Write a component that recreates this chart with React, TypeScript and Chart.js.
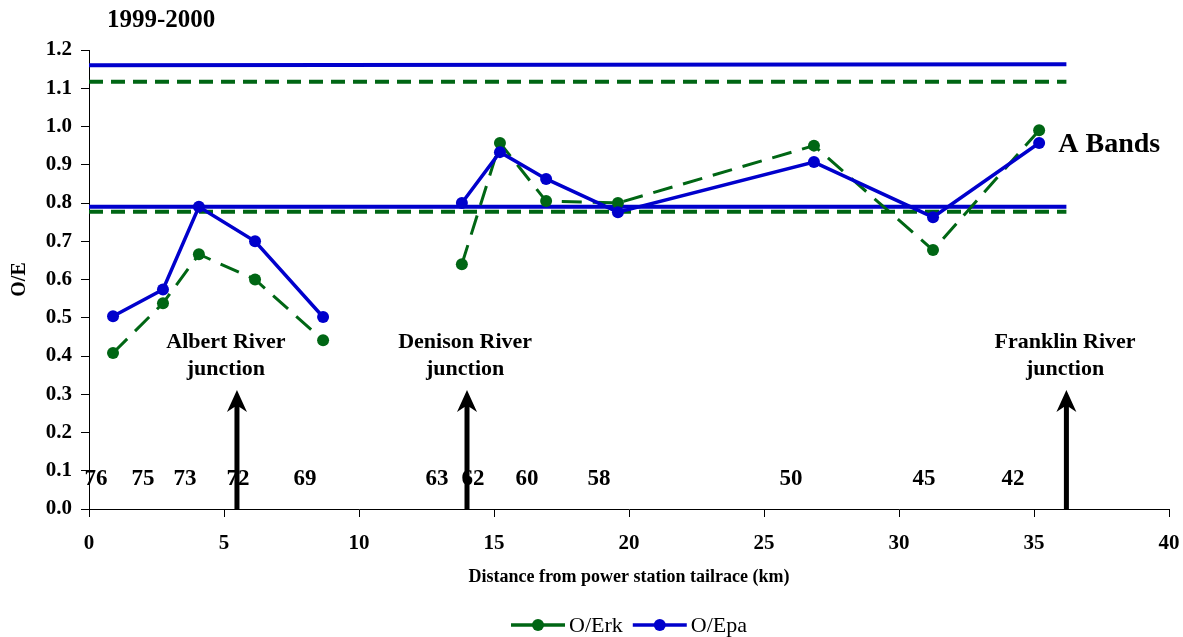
import React, { useEffect, useRef } from "react";
import { Chart, registerables } from "chart.js";

Chart.register(...registerables);

// ---------- data ----------
const distanceKm = [0.89, 2.74, 4.07, 6.15, 8.67, 13.81, 15.22, 16.93, 19.59, 26.85, 31.26, 35.19];
const oeRk = [0.408, 0.538, 0.666, 0.6, 0.441, 0.64, 0.957, 0.805, 0.8, 0.95, 0.677, 0.99];
const oePa = [0.504, 0.574, 0.79, 0.7, 0.502, 0.8, 0.933, 0.863, 0.776, 0.907, 0.763, 0.957];
const gapAfterIndex = 4; // series are broken between these reaches

const bandKm = [0, 36.2];
const paUpperBand = [1.16, 1.163];
const paLowerBand = [0.79, 0.79];
const rkUpperBand = [1.117, 1.117];
const rkLowerBand = [0.777, 0.777];

const siteNumbers = ["76", "75", "73", "72", "69", "63", "62", "60", "58", "50", "45", "42"];
const siteLabelKm = [0.26, 2.0, 3.56, 5.52, 8.0, 12.89, 14.22, 16.22, 18.89, 26.0, 30.93, 34.22];
const siteLabelOE = 0.078;

const junctionNames = ["Albert River", "Denison River", "Franklin River"];
const junctionKm = [5.48, 14.0, 36.2];
const junctionLabelKm = [5.07, 13.93, 36.15];
const junctionLineOE = [0.437, 0.366];
const arrowTipOE = 0.311;

const bandTitle = "A Bands";
const bandTitlePos = [35.9, 0.952];
const chartTitle = "1999-2000";

const GREEN = "#006614";
const BLUE = "#0000CC";
const SERIF = "'Liberation Serif', 'Times New Roman', serif";

function withGap(values: number[]) {
  const pts: { x: number; y: number | null }[] = [];
  values.forEach((v, i) => {
    pts.push({ x: distanceKm[i], y: v });
    if (i === gapAfterIndex) pts.push({ x: (distanceKm[i] + distanceKm[i + 1]) / 2, y: null });
  });
  return pts;
}

function band(values: number[]) {
  return values.map((v, i) => ({ x: bandKm[i], y: v }));
}

const overlayPlugin = {
  id: "overlay",
  afterDatasetsDraw(chart: any) {
    const ctx = chart.ctx as CanvasRenderingContext2D;
    const xs = chart.scales.x;
    const ys = chart.scales.y;
    const area = chart.chartArea;
    ctx.save();

    // site numbers
    ctx.fillStyle = "#000";
    ctx.font = `bold 23px ${SERIF}`;
    ctx.textAlign = "center";
    ctx.textBaseline = "middle";
    siteNumbers.forEach((s, i) => {
      ctx.fillText(s, xs.getPixelForValue(siteLabelKm[i]), ys.getPixelForValue(siteLabelOE));
    });

    // junction labels
    ctx.font = `bold 22px ${SERIF}`;
    junctionNames.forEach((name, i) => {
      const x = xs.getPixelForValue(junctionLabelKm[i]);
      ctx.fillText(name, x, ys.getPixelForValue(junctionLineOE[0]));
      ctx.fillText("junction", x, ys.getPixelForValue(junctionLineOE[1]));
    });

    // arrows
    junctionKm.forEach((km) => {
      const x = xs.getPixelForValue(km);
      const tip = ys.getPixelForValue(arrowTipOE);
      const base = ys.getPixelForValue(0);
      ctx.beginPath();
      ctx.moveTo(x, tip);
      ctx.lineTo(x + 10, tip + 22);
      ctx.lineTo(x + 2.5, tip + 17);
      ctx.lineTo(x + 2.5, base);
      ctx.lineTo(x - 2.5, base);
      ctx.lineTo(x - 2.5, tip + 17);
      ctx.lineTo(x - 10, tip + 22);
      ctx.closePath();
      ctx.fill();
    });

    // A Bands
    ctx.font = `bold 28px ${SERIF}`;
    ctx.textAlign = "left";
    ctx.fillText(bandTitle, xs.getPixelForValue(bandTitlePos[0]), ys.getPixelForValue(bandTitlePos[1]));

    // title
    ctx.font = `bold 25px ${SERIF}`;
    ctx.fillText(chartTitle, area.left + 18, area.top - 29);

    // legend
    const items = chart.data.datasets.filter((d: any) => d.label);
    ctx.font = `22px ${SERIF}`;
    const lineW = 54;
    const gapText = 4;
    const gapItem = 10;
    const widths = items.map((d: any) => lineW + gapText + ctx.measureText(d.label).width);
    const total = widths.reduce((a: number, b: number) => a + b, 0) + gapItem * (items.length - 1);
    let lx = (area.left + area.right) / 2 - total / 2;
    const ly = 625;
    items.forEach((d: any, i: number) => {
      ctx.strokeStyle = d.borderColor;
      ctx.fillStyle = d.borderColor;
      ctx.lineWidth = 3.5;
      ctx.setLineDash([]);
      ctx.beginPath();
      ctx.moveTo(lx, ly);
      ctx.lineTo(lx + lineW, ly);
      ctx.stroke();
      ctx.beginPath();
      ctx.arc(lx + lineW / 2, ly, 6, 0, Math.PI * 2);
      ctx.fill();
      ctx.fillStyle = "#000";
      ctx.textAlign = "left";
      ctx.textBaseline = "middle";
      ctx.fillText(d.label, lx + lineW + gapText, ly + 1);
      lx += widths[i] + gapItem;
    });

    ctx.restore();
  },
};

export default function App() {
  const ref = useRef<HTMLCanvasElement>(null);

  useEffect(() => {
    if (!ref.current) return;
    const refLine = (data: any, color: string, dash: number[], order: number) => ({
      label: "",
      data,
      borderColor: color,
      backgroundColor: color,
      borderWidth: 4,
      borderDash: dash,
      pointRadius: 0,
      fill: false,
      tension: 0,
      order,
    });
    const chart = new Chart(ref.current, {
      type: "line",
      data: {
        datasets: [
          {
            label: "O/Erk",
            data: withGap(oeRk),
            borderColor: GREEN,
            backgroundColor: GREEN,
            borderWidth: 3,
            borderDash: [20, 11],
            pointRadius: 6,
            pointBackgroundColor: GREEN,
            pointBorderWidth: 0,
            spanGaps: false,
            tension: 0,
            fill: false,
            order: 1,
          },
          {
            label: "O/Epa",
            data: withGap(oePa),
            borderColor: BLUE,
            backgroundColor: BLUE,
            borderWidth: 3.5,
            pointRadius: 6,
            pointBackgroundColor: BLUE,
            pointBorderWidth: 0,
            spanGaps: false,
            tension: 0,
            fill: false,
            order: 0,
          },
          refLine(band(rkUpperBand), GREEN, [14, 8], 5),
          refLine(band(rkLowerBand), GREEN, [14, 8], 4),
          refLine(band(paUpperBand), BLUE, [], 3),
          refLine(band(paLowerBand), BLUE, [], 2),
        ] as any,
      },
      options: {
        animation: false,
        responsive: false,
        maintainAspectRatio: false,
        layout: { padding: { top: 50, right: 14, left: 0, bottom: 0 } },
        plugins: {
          legend: { display: false },
          tooltip: { enabled: false },
          title: { display: false },
        },
        scales: {
          x: {
            type: "linear",
            min: 0,
            max: 40,
            ticks: {
              stepSize: 5,
              color: "#000",
              padding: 14,
              font: { family: SERIF, size: 21, weight: "bold" },
              maxRotation: 0,
            },
            grid: { display: true, drawOnChartArea: false, drawTicks: true, tickLength: 8, color: "#000", lineWidth: 1 },
            border: { display: true, color: "#000", width: 1 },
            title: {
              display: true,
              text: "Distance from power station tailrace (km)",
              color: "#000",
              font: { family: SERIF, size: 18, weight: "bold" },
              padding: { top: 0, bottom: 49 },
            },
            afterFit: (s: any) => {
              s.height = 128;
              s.paddingLeft = 0;
              s.paddingRight = 0;
            },
          },
          y: {
            type: "linear",
            min: 0,
            max: 1.2,
            ticks: {
              stepSize: 0.1,
              color: "#000",
              padding: 9,
              font: { family: SERIF, size: 21, weight: "bold" },
              callback: (v: any) => Number(v).toFixed(1),
            },
            grid: { display: true, drawOnChartArea: false, drawTicks: true, tickLength: 8, color: "#000", lineWidth: 1 },
            border: { display: true, color: "#000", width: 1 },
            title: {
              display: true,
              text: "O/E",
              color: "#000",
              font: { family: SERIF, size: 20, weight: "bold" },
              padding: { top: 8, bottom: 0 },
            },
            afterFit: (s: any) => {
              s.width = 89;
              s.paddingTop = 0;
              s.paddingBottom = 0;
            },
          },
        },
      } as any,
      plugins: [overlayPlugin],
    });
    return () => chart.destroy();
  }, []);

  return (
    <div style={{ position: "absolute", left: 0, top: 0, width: 1183, height: 637, background: "#fff" }}>
      <canvas ref={ref} width={1183} height={637} style={{ display: "block" }} />
    </div>
  );
}
